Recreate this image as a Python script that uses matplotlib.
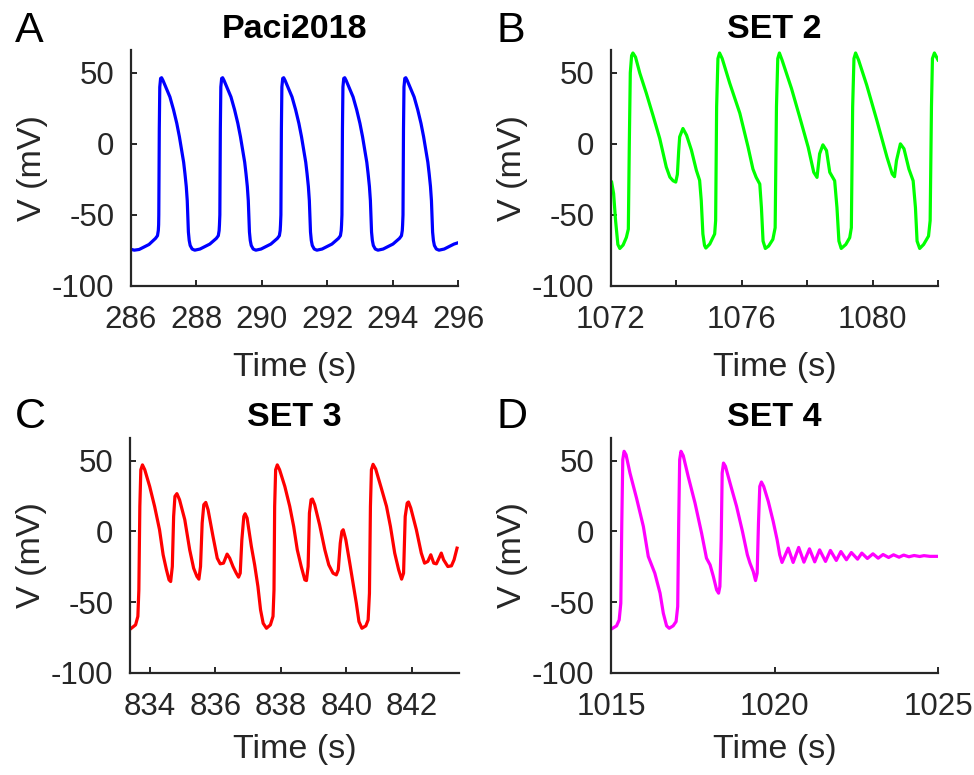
import matplotlib
matplotlib.use("Agg")
import matplotlib.pyplot as plt

plt.rcParams["font.family"] = ["Liberation Sans", "DejaVu Sans"]

# PANEL A - Paci2018 (time s, voltage mV)
a_time = [
    286.00, 286.10, 286.25, 286.55, 286.75, 286.81, 286.835, 286.845,
    286.850, 286.865, 286.880, 286.905, 286.935, 286.980, 287.070, 287.190, 287.300, 287.400,
    287.480, 287.550, 287.610, 287.650, 287.690, 287.720, 287.740, 287.755, 287.780, 287.810,
    287.870, 287.950, 288.110, 288.410, 288.610, 288.670, 288.695, 288.705,
    288.717, 288.732, 288.747, 288.772, 288.802, 288.847, 288.937, 289.057, 289.167, 289.267,
    289.347, 289.417, 289.477, 289.517, 289.557, 289.587, 289.607, 289.622, 289.647, 289.677,
    289.737, 289.817, 289.977, 290.277, 290.477, 290.537, 290.562, 290.572,
    290.584, 290.599, 290.614, 290.639, 290.669, 290.714, 290.804, 290.924, 291.034, 291.134,
    291.214, 291.284, 291.344, 291.384, 291.424, 291.454, 291.474, 291.489, 291.514, 291.544,
    291.604, 291.684, 291.844, 292.144, 292.344, 292.404, 292.429, 292.439,
    292.451, 292.466, 292.481, 292.506, 292.536, 292.581, 292.671, 292.791, 292.901, 293.001,
    293.081, 293.151, 293.211, 293.251, 293.291, 293.321, 293.341, 293.356, 293.381, 293.411,
    293.471, 293.551, 293.711, 294.011, 294.211, 294.271, 294.296, 294.306,
    294.318, 294.333, 294.348, 294.373, 294.403, 294.448, 294.538, 294.658, 294.768, 294.868,
    294.948, 295.018, 295.078, 295.118, 295.158, 295.188, 295.208, 295.223, 295.248, 295.278,
    295.338, 295.418, 295.578, 295.878, 296.000,
]
a_volt = [
    -74.2, -74.8, -74.3, -70.8, -66.5, -64.6, -61.0, -57.0,
    -50, 10, 40, 46, 46.5, 44.5, 39.5, 33, 24, 14.4, 5, -4.5, -13, -21, -30, -40, -52, -62, -68, -71.5,
    -74, -74.8, -74, -70.5, -66.5, -64.6, -61, -57,
    -50, 10, 40, 46, 46.5, 44.5, 39.5, 33, 24, 14.4, 5, -4.5, -13, -21, -30, -40, -52, -62, -68, -71.5,
    -74, -74.8, -74, -70.5, -66.5, -64.6, -61, -57,
    -50, 10, 40, 46, 46.5, 44.5, 39.5, 33, 24, 14.4, 5, -4.5, -13, -21, -30, -40, -52, -62, -68, -71.5,
    -74, -74.8, -74, -70.5, -66.5, -64.6, -61, -57,
    -50, 10, 40, 46, 46.5, 44.5, 39.5, 33, 24, 14.4, 5, -4.5, -13, -21, -30, -40, -52, -62, -68, -71.5,
    -74, -74.8, -74, -70.5, -66.5, -64.6, -61, -57,
    -50, 10, 40, 46, 46.5, 44.5, 39.5, 33, 24, 14.4, 5, -4.5, -13, -21, -30, -40, -52, -62, -68, -71.5,
    -74, -74.8, -74, -70.5, -69.6,
]

# PANEL B - SET 2
b_time = [
    1072.02, 1072.08, 1072.14, 1072.21, 1072.27, 1072.37, 1072.47, 1072.53, 1072.56, 1072.59,
    1072.63, 1072.67, 1072.75, 1072.88, 1073.08, 1073.28, 1073.49, 1073.69, 1073.80, 1073.90,
    1073.98, 1074.03, 1074.07, 1074.10, 1074.20, 1074.31, 1074.46, 1074.61, 1074.71, 1074.76,
    1074.81, 1074.86, 1074.90, 1075.02, 1075.17, 1075.20, 1075.23, 1075.27, 1075.32, 1075.40,
    1075.63, 1075.94, 1076.19, 1076.34, 1076.44, 1076.55, 1076.60, 1076.65, 1076.72, 1076.82,
    1076.95, 1077.02, 1077.06, 1077.10, 1077.15, 1077.23, 1077.52, 1077.77, 1078.03, 1078.20,
    1078.30, 1078.38, 1078.48, 1078.59, 1078.69, 1078.84, 1078.91, 1078.97, 1079.04, 1079.18,
    1079.30, 1079.35, 1079.39, 1079.43, 1079.48, 1079.57, 1079.82, 1080.13, 1080.44, 1080.60,
    1080.67, 1080.73, 1080.85, 1080.96, 1081.11, 1081.24, 1081.31, 1081.36, 1081.44, 1081.56,
    1081.71, 1081.76, 1081.80, 1081.83, 1081.89, 1082.00,
]
b_volt = [
    -27, -35, -54, -70.8, -73.6, -71.2, -65.8, -60, 0, 50,
    62, 63.9, 61, 49.8, 35.6, 20.3, 3.8, -16.3, -23.4, -26,
    -26.9, -21.5, -5, 4.9, 10.8, 6.1, -4.5, -18.6, -25.7, -39.9,
    -63.4, -71.5, -73.3, -70.5, -63.4, -54, 26, 60, 63.9, 60,
    42.7, 21.5, -2.1, -17.7, -23.6, -28.3, -44.8, -68.4, -73.6, -71.9,
    -67.2, -59, 26, 60, 63.9, 59, 38.9, 18.9, -2.4, -20,
    -23.6, -7, -0.7, -4.7, -20, -26, -44.8, -68.4, -73.6, -70.8,
    -66, -59, 26, 60, 63.9, 59, 41.3, 16.5, -9.4, -21.2,
    -23.1, -11.8, 0, -3.5, -17.7, -26, -44.8, -68.4, -73.6, -70.8,
    -64.9, -54, 26, 60, 63.9, 59,
]

# PANEL C - SET 3
c_time = [
    833.44, 833.57, 833.64, 833.67, 833.70, 833.73, 833.78, 833.85, 834.00, 834.15,
    834.30, 834.41, 834.51, 834.59, 834.64, 834.69, 834.73, 834.77, 834.83, 834.91,
    835.07, 835.22, 835.34, 835.44, 835.50, 835.55, 835.60, 835.65, 835.71, 835.78,
    835.93, 836.06, 836.15, 836.25, 836.36, 836.44, 836.54, 836.64, 836.71, 836.76,
    836.81, 836.87, 836.91, 836.97, 837.10, 837.20, 837.30, 837.38, 837.46, 837.56,
    837.68, 837.76, 837.79, 837.81, 837.84, 837.89, 837.96, 838.12, 838.27, 838.39,
    838.50, 838.62, 838.73, 838.78, 838.83, 838.87, 838.92, 838.96, 839.03, 839.18,
    839.34, 839.46, 839.59, 839.69, 839.75, 839.81, 839.86, 839.90, 839.98, 840.10,
    840.20, 840.30, 840.38, 840.47, 840.59, 840.66, 840.70, 840.73, 840.76, 840.81,
    840.89, 841.06, 841.22, 841.34, 841.47, 841.59, 841.68, 841.74, 841.79, 841.85,
    841.89, 841.96, 842.13, 842.28, 842.38, 842.48, 842.57, 842.66, 842.74, 842.82,
    842.89, 842.96, 843.09, 843.20, 843.28, 843.37,
]
c_volt = [
    -68.4, -66, -60, -41.3, 17.7, 43.6, 47, 43.6, 31.8, 17.7,
    1.2, -16.5, -27, -34.2, -35.4, -24.8, 10.6, 24.8, 26.7, 22.4,
    8.3, -13, -26, -31.8, -33.7, -24.8, 5.9, 18.9, 20.5, 15.3,
    -3.5, -18.9, -22.9, -22.4, -16, -18.9, -24.8, -29.5, -32.3, -29.5,
    -5.9, 10.6, 12.5, 9.4, -10.6, -23.6, -38.9, -55.4, -64.9, -68.4,
    -66, -60, -41.3, 17.7, 43.6, 47, 43.6, 31.8, 17.7, 3.5,
    -13, -24.8, -34.2, -34.7, -24.8, 13, 22.4, 22.9, 18.9, 4.7,
    -13, -23.6, -29.5, -30.7, -27.1, -8.3, 0, 1.2, -5.9, -22.4,
    -36.6, -50.7, -63.7, -68.4, -66.7, -62.5, -43.6, 17.7, 43.6, 47.4,
    44.1, 30.7, 17.7, 3.5, -15.3, -27.1, -33.7, -29.5, 10.6, 20,
    20.8, 16.5, 1.2, -15.3, -22.4, -21.2, -16.5, -22.4, -22.9, -18.9,
    -15.3, -20, -24.8, -24.3, -20, -11.8,
]

# PANEL D - SET 4
d_time = [
    1015.05, 1015.17, 1015.25, 1015.30, 1015.33, 1015.36, 1015.40, 1015.46, 1015.58, 1015.78,
    1015.99, 1016.14, 1016.24, 1016.34, 1016.50, 1016.60, 1016.70, 1016.78, 1016.90, 1016.99,
    1017.04, 1017.07, 1017.10, 1017.14, 1017.21, 1017.36, 1017.57, 1017.77, 1017.92, 1018.03,
    1018.13, 1018.23, 1018.29, 1018.33, 1018.37, 1018.40, 1018.44, 1018.50, 1018.64, 1018.84,
    1019.02, 1019.17, 1019.25, 1019.35, 1019.42, 1019.47, 1019.51, 1019.55, 1019.60, 1019.67,
    1019.81, 1019.96, 1020.08, 1020.16, 1020.23,
    1020.42, 1020.57, 1020.74, 1020.90, 1021.07, 1021.23, 1021.38, 1021.56, 1021.71, 1021.89,
    1022.03, 1022.20, 1022.35, 1022.54, 1022.67, 1022.84, 1023.01, 1023.17, 1023.32, 1023.49,
    1023.64, 1023.81, 1023.95, 1024.11, 1024.27, 1024.44, 1024.57, 1024.75, 1025.00,
]
d_volt = [
    -68.4, -66.7, -62.5, -50.7, 5.9, 50.7, 56.6, 54.2, 41.3, 23.6,
    3.5, -17.7, -23.6, -29.5, -43.6, -57.8, -66.7, -68.4, -66.7, -63.7,
    -53, 5.9, 50.7, 56.6, 53.5, 38.9, 20, -1.2, -18.9, -23.6,
    -31.8, -41.3, -43.6, -38.9, -5.9, 41.3, 48.3, 46, 34.2, 17.7,
    0, -16.5, -22.4, -28.3, -34.7, -29.5, 5.9, 31.8, 34.9, 31.8,
    21.2, 7.1, -5.9, -16.5, -21.9,
    -11.8, -21.9, -11.3, -21.7, -12.3, -21.5, -13.0, -21.2, -13.4, -20.5,
    -14.2, -20.0, -14.9, -19.6, -15.3, -19.1, -15.8, -18.9, -16.3, -18.4,
    -16.5, -18.2, -16.7, -17.9, -17.0, -17.7, -17.1, -17.6, -17.6,
]

DARK = "#262626"


def style_axes(ax, xlim, xticks, xlabels, title, xlabelpad):
    ax.set_xlim(xlim)
    ax.set_ylim(-100, 66)
    ax.set_xticks(xticks)
    ax.set_xticklabels(xlabels)
    ax.set_yticks([-100, -50, 0, 50])
    ax.set_yticklabels(["-100", "-50", "0", "50"])
    for s in ["top", "right"]:
        ax.spines[s].set_visible(False)
    for s in ["left", "bottom"]:
        ax.spines[s].set_linewidth(1.6)
        ax.spines[s].set_color(DARK)
    ax.tick_params(direction="in", length=4, width=1.4, colors=DARK, labelsize=22.5)
    ax.tick_params(axis="x", pad=14)
    ax.tick_params(axis="y", pad=12)
    ax.set_xlabel("Time (s)", fontsize=24.5, color=DARK, labelpad=xlabelpad)
    ax.set_ylabel("V (mV)", fontsize=24.5, color=DARK, labelpad=3)
    ax.set_title(title, fontsize=24.5, fontweight="bold", color="black", pad=9)


fig = plt.figure(figsize=(9.74, 7.75), dpi=100)
W, H = 974.0, 775.0

ax_a = fig.add_axes([131 / W, 1 - 286 / H, 327 / W, 236 / H])
ax_b = fig.add_axes([611 / W, 1 - 286 / H, 327 / W, 236 / H])
ax_c = fig.add_axes([130 / W, 1 - 673 / H, 329 / W, 235 / H])
ax_d = fig.add_axes([611 / W, 1 - 673 / H, 327 / W, 235 / H])

ax_a.plot(a_time, a_volt, color="#0000ff", lw=2.3)
ax_b.plot(b_time, b_volt, color="#00ff00", lw=2.3)
ax_c.plot(c_time, c_volt, color="#ff0000", lw=2.3)
ax_d.plot(d_time, d_volt, color="#ff00ff", lw=2.3)

style_axes(ax_a, (286, 296), [286, 288, 290, 292, 294, 296],
           ["286", "288", "290", "292", "294", "296"], "Paci2018", 12)
style_axes(ax_b, (1072, 1082), [1072, 1074, 1076, 1078, 1080, 1082],
           ["1072", "", "1076", "", "1080", ""], "SET 2", 12)
style_axes(ax_c, (833.4, 843.43), [834, 836, 838, 840, 842],
           ["834", "836", "838", "840", "842"], "SET 3", 8)
style_axes(ax_d, (1015, 1025), [1015, 1020, 1025],
           ["1015", "1020", "1025"], "SET 4", 8)

for letter, x, y in [("A", 15, 42), ("B", 497, 42), ("C", 15, 428), ("D", 497, 428)]:
    fig.text(x / W, 1 - y / H, letter, fontsize=31, color="black",
             ha="left", va="baseline")

fig.savefig("out.png", dpi=100)
